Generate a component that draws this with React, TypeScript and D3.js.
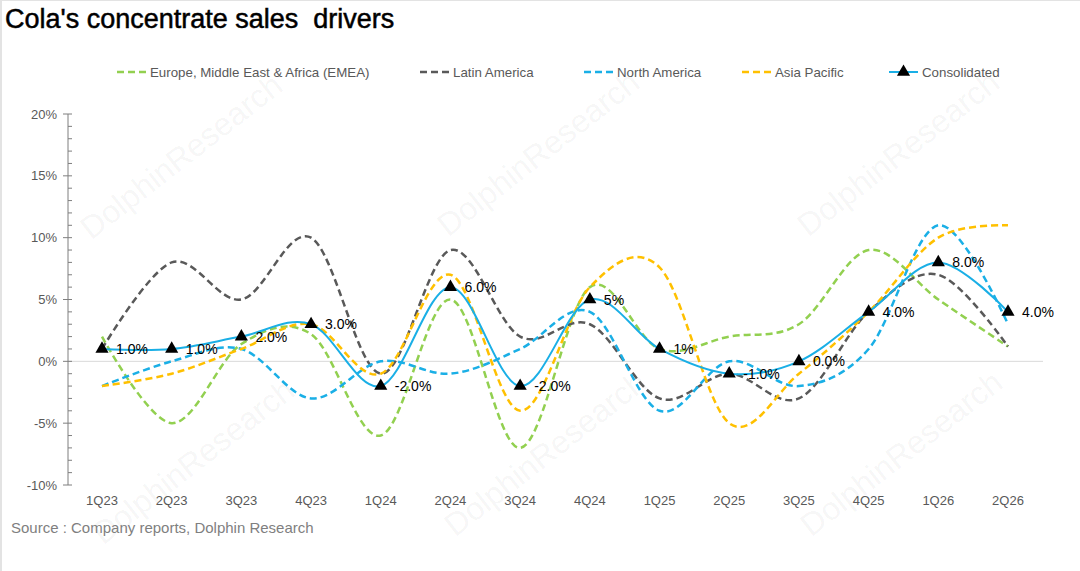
import React from "react";
import * as d3 from "d3";

const categories = ["1Q23","2Q23","3Q23","4Q23","1Q24","2Q24","3Q24","4Q24","1Q25","2Q25","3Q25","4Q25","1Q26","2Q26"];
const emea = [2, -5, 1.4, 2.2, -6, 5, -7, 6, 1, 2, 3, 9, 5, 1.2];
const latam = [1, 8, 5, 10, -1, 9, 2, 3, -3, -1, -3, 4, 7, 1.2];
const northAmerica = [-2, 0, 1, -3, 0, -1, 1, 4, -4, 0, -2, 1, 11, 3];
const asiaPacific = [-2, -1, 1, 3, -1, 7, -4, 6, 7.6, -5, -1, 4, 10, 11];
const consolidated = [1, 1, 2, 3, -2, 6, -2, 5, 1, -1, 0, 4, 8, 4];
const consolidatedLabels = ["1.0%","1.0%","2.0%","3.0%","-2.0%","6.0%","-2.0%","5%","1%","-1.0%","0.0%","4.0%","8.0%","4.0%"];
const yTicks = [-10, -5, 0, 5, 10, 15, 20];

const seriesList = [
  { name: "Europe, Middle East & Africa (EMEA)", values: emea, color: "#92D050" },
  { name: "Latin America", values: latam, color: "#595959" },
  { name: "North America", values: northAmerica, color: "#1AAFE6" },
  { name: "Asia Pacific", values: asiaPacific, color: "#FFC000" },
];

const legendItems = [
  { name: "Europe, Middle East & Africa (EMEA)", color: "#92D050", x: 117, type: "dash" },
  { name: "Latin America", color: "#595959", x: 420, type: "dash" },
  { name: "North America", color: "#1AAFE6", x: 584, type: "dash" },
  { name: "Asia Pacific", color: "#FFC000", x: 742, type: "dash" },
  { name: "Consolidated", color: "#1AAFE6", x: 889, type: "tri" },
];

const watermarks = [
  [188, 165], [545, 162], [905, 162], [200, 470], [552, 462], [908, 462],
];

const FONT = "'Liberation Sans', Arial, Helvetica, sans-serif";

export default function App() {
  const W = 1080, H = 571;
  const x = d3.scalePoint<string>().domain(categories).range([102, 1008]);
  const y = d3.scaleLinear().domain([-10, 20]).range([485, 114]);
  const line = d3
    .line<number>()
    .x((_, i) => x(categories[i]) as number)
    .y((d) => y(d))
    .curve(d3.curveCardinal.tension(0));
  const minor = d3.range(-10, 21, 1);
  const tri = d3.symbol().type(d3.symbolTriangle).size(75)() as string;

  return (
    <div style={{ position: "absolute", left: 0, top: 0 }}>
      <svg width={W} height={H} style={{ display: "block", background: "#fff" }} fontFamily={FONT}>
        <rect x={0} y={0} width={W} height={H} fill="#fff" />
        <line x1={1} y1={0} x2={1} y2={H} stroke="#e3e3e3" strokeWidth={2} />
        <line x1={0} y1={0.5} x2={W} y2={0.5} stroke="#e3e3e3" strokeWidth={1} />

        {watermarks.map(([cx, cy], i) => (
          <text
            key={i}
            x={cx}
            y={cy}
            textAnchor="middle"
            fontSize={32}
            fill="#000"
            fillOpacity={0.05}
            transform={`rotate(-38 ${cx} ${cy})`}
          >
            DolphinResearch
          </text>
        ))}

        <text x={5} y={28} fontSize={27} fill="#000" stroke="#000" strokeWidth={0.5} style={{ whiteSpace: "pre" }}>
          {"Cola's concentrate sales  drivers"}
        </text>

        {/* legend */}
        {legendItems.map((it) => (
          <g key={it.name}>
            {it.type === "dash" ? (
              <line x1={it.x} x2={it.x + 29} y1={72} y2={72} stroke={it.color} strokeWidth={2.5} strokeDasharray="7,4" />
            ) : (
              <g>
                <line x1={it.x} x2={it.x + 29} y1={72} y2={72} stroke={it.color} strokeWidth={2} />
                <path d={tri} transform={`translate(${it.x + 14.5},72)`} fill="#000" />
              </g>
            )}
            <text x={it.x + 33} y={76.5} fontSize={13.3} fill="#595959">
              {it.name}
            </text>
          </g>
        ))}

        {/* zero line */}
        <line x1={68} x2={1043} y1={y(0)} y2={y(0)} stroke="#d9d9d9" strokeWidth={1} />

        {/* y axis */}
        <line x1={68} x2={68} y1={y(20)} y2={y(-10)} stroke="#7f7f7f" strokeWidth={1} />
        {minor.map((v) => (
          <line key={"m" + v} x1={68} x2={72} y1={y(v)} y2={y(v)} stroke="#7f7f7f" strokeWidth={1} />
        ))}
        {yTicks.map((v) => (
          <g key={"t" + v}>
            <line x1={63} x2={68} y1={y(v)} y2={y(v)} stroke="#7f7f7f" strokeWidth={1} />
            <text x={57} y={y(v) + 4.5} textAnchor="end" fontSize={13} fill="#595959">
              {v + "%"}
            </text>
          </g>
        ))}

        {/* x labels */}
        {categories.map((c) => (
          <text key={c} x={x(c)} y={505} textAnchor="middle" fontSize={13} fill="#595959">
            {c}
          </text>
        ))}

        {/* series */}
        {seriesList.map((s) => (
          <path
            key={s.name}
            d={line(s.values) as string}
            fill="none"
            stroke={s.color}
            strokeWidth={2.5}
            strokeDasharray="7,4"
          />
        ))}
        <path d={line(consolidated) as string} fill="none" stroke="#1AAFE6" strokeWidth={2} />
        {consolidated.map((v, i) => (
          <g key={"c" + i}>
            <path d={tri} transform={`translate(${x(categories[i])},${y(v)})`} fill="#000" />
            <text x={(x(categories[i]) as number) + 14} y={y(v) + 5} fontSize={14} fill="#000">
              {consolidatedLabels[i]}
            </text>
          </g>
        ))}

        <text x={11} y={533} fontSize={15} fill="#7f7f7f">
          Source : Company reports, Dolphin Research
        </text>
      </svg>
    </div>
  );
}
